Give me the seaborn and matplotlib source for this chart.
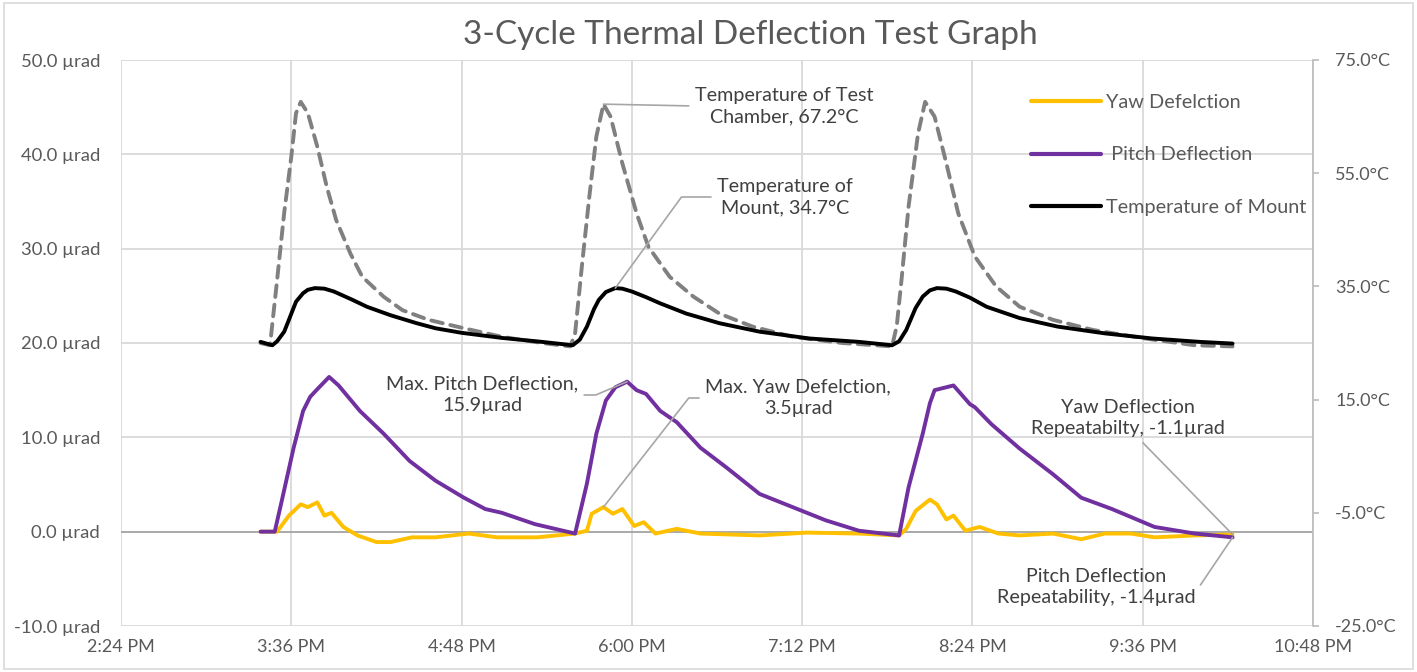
import pandas as pd
import matplotlib
matplotlib.use("Agg")
import matplotlib.pyplot as plt
import matplotlib.dates as mdates
from matplotlib.patches import Rectangle
from matplotlib.lines import Line2D
import seaborn as sns

# --- datos ---
pitch_time = ["15:23", "15:29", "15:32", "15:37", "15:41", "15:44", "15:47", "15:52", "15:56", "15:59",
              "16:05", "16:15", "16:26", "16:37", "16:49", "16:58", "17:05", "17:19", "17:36",
              "17:41", "17:45", "17:49", "17:53", "17:58", "18:02", "18:06", "18:12", "18:19",
              "18:29", "18:40", "18:54", "19:08", "19:22", "19:36", "19:53",
              "19:57", "20:03", "20:06", "20:08", "20:16", "20:23", "20:25", "20:32", "20:44", "20:58",
              "21:10", "21:23", "21:41", "21:58", "22:14"]
pitch_defl = [0.0, 0.0, 3.3, 8.9, 12.8, 14.3, 15.1, 16.4, 15.5, 14.6,
              12.8, 10.4, 7.5, 5.4, 3.6, 2.4, 2.0, 0.8, -0.2,
              5.1, 10.4, 13.9, 15.3, 15.9, 15.0, 14.6, 12.8, 11.6,
              8.9, 6.8, 4.0, 2.6, 1.2, 0.1, -0.4,
              4.7, 10.4, 13.6, 15.0, 15.5, 13.5, 13.2, 11.4, 8.8, 6.1,
              3.6, 2.4, 0.5, -0.2, -0.6]

yaw_time = ["15:23", "15:30", "15:35", "15:40", "15:43", "15:47", "15:50", "15:53", "15:58",
            "16:04", "16:12", "16:18", "16:27", "16:37", "16:51", "17:03", "17:20", "17:36",
            "17:41", "17:43", "17:48", "17:52", "17:56", "18:01", "18:05", "18:10", "18:19",
            "18:29", "18:54", "19:14", "19:36", "19:53",
            "19:56", "20:00", "20:06", "20:09", "20:13", "20:16", "20:21", "20:27", "20:35",
            "20:44", "20:58", "21:10", "21:20", "21:31", "21:41", "21:58", "22:14"]
yaw_defl = [0.0, 0.0, 1.7, 2.9, 2.6, 3.1, 1.7, 2.0, 0.5,
            -0.4, -1.1, -1.1, -0.6, -0.6, -0.2, -0.6, -0.6, -0.2,
            0.1, 1.9, 2.6, 1.9, 2.4, 0.6, 1.0, -0.2, 0.3,
            -0.2, -0.4, -0.1, -0.2, -0.4,
            0.3, 2.2, 3.4, 2.9, 1.3, 1.7, 0.1, 0.5, -0.2,
            -0.4, -0.2, -0.8, -0.2, -0.2, -0.6, -0.4, -0.3]

chamber_time = ["15:23", "15:27", "15:30", "15:33", "15:36", "15:38", "15:40", "15:43", "15:47",
                "15:51", "15:55", "16:01", "16:06", "16:15", "16:23", "16:34", "16:49", "17:05",
                "17:22", "17:34",
                "17:36", "17:39", "17:42", "17:45", "17:48", "17:51", "17:56", "18:02", "18:07",
                "18:16", "18:26", "18:37", "18:51", "19:08", "19:29", "19:50",
                "19:52", "19:54", "19:57", "20:01", "20:04", "20:08", "20:13", "20:18", "20:25",
                "20:34", "20:44", "20:58", "21:15", "21:37", "21:58", "22:14"]
chamber_temp = [25.0, 24.6, 36.1, 48.0, 57.9, 65.6, 67.6, 65.6, 59.7,
                52.6, 46.7, 40.8, 36.7, 33.2, 30.8, 29.1, 27.6, 26.1,
                25.0, 24.4,
                26.7, 39.1, 50.8, 61.5, 67.2, 65.0, 56.7, 47.9, 42.0,
                36.7, 33.2, 30.2, 27.9, 26.1, 25.0, 24.4,
                28.0, 36.1, 49.1, 62.0, 67.6, 65.0, 56.7, 47.9, 40.3,
                35.0, 31.4, 29.1, 27.3, 25.8, 24.6, 24.4]

mount_time = ["15:23", "15:28", "15:30", "15:33", "15:35", "15:38", "15:41", "15:43", "15:46",
              "15:50", "15:54", "16:02", "16:08", "16:18",
              "16:29", "16:37", "16:48", "17:05", "17:22", "17:35",
              "17:38", "17:41", "17:44", "17:46", "17:49", "17:53", "17:56", "18:00", "18:06",
              "18:12", "18:23", "18:37", "18:54", "19:15", "19:36", "19:50",
              "19:53", "19:56", "20:00", "20:03", "20:06", "20:09", "20:13", "20:17", "20:23",
              "20:30", "20:44", "21:00", "21:20", "21:40", "22:00", "22:14"]
mount_temp = [25.2, 24.6, 25.3, 27.0, 29.1, 32.3, 33.8, 34.4, 34.7,
              34.6, 34.1, 32.6, 31.4, 29.9,
              28.5, 27.6, 26.8, 25.9, 25.2, 24.6,
              25.6, 27.9, 31.0, 32.6, 34.0, 34.7, 34.6, 34.1, 33.1,
              32.0, 30.2, 28.5, 27.0, 25.8, 25.2, 24.6,
              25.3, 27.3, 31.2, 33.2, 34.3, 34.7, 34.6, 34.1, 33.0,
              31.4, 29.4, 27.9, 26.7, 25.8, 25.2, 24.9]

def a_fecha(horas):
    return pd.to_datetime(["2024-01-01 " + h for h in horas])

df_pitch = pd.DataFrame({"t": a_fecha(pitch_time), "v": pitch_defl})
df_yaw = pd.DataFrame({"t": a_fecha(yaw_time), "v": yaw_defl})
df_cham = pd.DataFrame({"t": a_fecha(chamber_time), "v": chamber_temp})
df_mount = pd.DataFrame({"t": a_fecha(mount_time), "v": mount_temp})

sns.set_style("white")
plt.rcParams["font.family"] = ["Lato", "DejaVu Sans"]
gris_txt = "#595959"
gris_lin = "#d9d9d9"

fig = plt.figure(figsize=(14.17, 6.72), dpi=100)
ax = fig.add_axes([121 / 1417, 1 - 626 / 672, (1313 - 121) / 1417, (626 - 60) / 672])
ax2 = ax.twinx()

YAW_C, PITCH_C = "#FFC000", "#7030A0"
estilo = dict(lw=2.8, solid_joinstyle="round", solid_capstyle="round")
sns.lineplot(data=df_yaw, x="t", y="v", ax=ax, color=YAW_C, **estilo)
sns.lineplot(data=df_pitch, x="t", y="v", ax=ax, color=PITCH_C, **estilo)
sns.lineplot(data=df_cham, x="t", y="v", ax=ax2, color="#808080", lw=2.8,
             linestyle=(0, (3.0, 2.0)), dash_capstyle="round", dash_joinstyle="round")
sns.lineplot(data=df_mount, x="t", y="v", ax=ax2, color="black", **estilo)

# ejes
ax.set_ylim(-10, 50)
ax.set_yticks(range(-10, 51, 10))
ax.yaxis.set_major_formatter(plt.FuncFormatter(lambda v, p: f"{v:.1f} µrad"))
ax2.set_ylim(-25, 75)
ax2.set_yticks(range(-25, 76, 20))
ax2.yaxis.set_major_formatter(plt.FuncFormatter(lambda v, p: f"{v:.1f}°C"))

inicio = pd.Timestamp("2024-01-01 14:24")
ticks = pd.date_range(inicio, periods=8, freq="72min")
ax.set_xlim(ticks[0], ticks[-1])
ax.set_xticks(ticks)
ax.xaxis.set_major_formatter(mdates.DateFormatter("%-I:%M %p"))

ax.grid(True, color=gris_lin, lw=1.3)
ax.axhline(0, color="#a6a6a6", lw=1.3, zorder=1.5)
for a in (ax, ax2):
    a.set_xlabel("")
    a.set_ylabel("")
    for s in a.spines.values():
        s.set_visible(False)
ax2.spines["right"].set_visible(True)
ax2.spines["right"].set_color("#bfbfbf")
ax2.spines["right"].set_linewidth(1.3)

ax.tick_params(axis="x", length=0, pad=9, labelsize=13, labelcolor=gris_txt)
ax.tick_params(axis="y", length=0, pad=15, labelsize=13.3, labelcolor=gris_txt)
ax2.tick_params(axis="y", length=4, width=1.3, color="#bfbfbf", pad=12,
                labelsize=13, labelcolor=gris_txt)

fig.text(750 / 1417, 1 - 35 / 672, "3-Cycle Thermal Deflection Test Graph",
         ha="center", va="center", fontsize=24, color=gris_txt)

# leyenda
handles = [Line2D([], [], color=YAW_C, lw=3),
           Line2D([], [], color=PITCH_C, lw=3),
           Line2D([], [], color="black", lw=3)]
labels = ["Yaw Defelction", " Pitch Deflection", "Temperature of Mount"]
ax2.legend(handles, labels, loc="center left", bbox_to_anchor=(1031 / 1417, 1 - 155 / 672),
           bbox_transform=fig.transFigure, frameon=False, fontsize=14.3,
           labelcolor=gris_txt, handlelength=3.5, handletextpad=0.3,
           labelspacing=1.78, borderpad=0, borderaxespad=0)

# anotaciones
gris_flecha = "#a6a6a6"
def nota(eje, texto, punto, pos, rel, conn="arc3"):
    eje.annotate(texto, xy=punto, xytext=(pos[0] / 1417, 1 - pos[1] / 672),
                 textcoords="figure fraction", ha="center", va="center",
                 fontsize=14.2, color="#404040", linespacing=1.35,
                 arrowprops=dict(arrowstyle="-", color=gris_flecha, lw=1.2,
                                 shrinkA=2, shrinkB=0, relpos=rel,
                                 connectionstyle=conn))

i_ch = chamber_temp.index(67.2)
nota(ax2, "Temperature of Test\nChamber, 67.2°C", (df_cham.t[i_ch], chamber_temp[i_ch]),
     (784, 106), (0, 0.5))
i_mt = mount_time.index("17:53")
nota(ax2, "Temperature of\nMount, 34.7°C", (df_mount.t[i_mt], mount_temp[i_mt]),
     (785, 197), (0, 0.5), "angle,angleA=0,angleB=54,rad=0")
i_pt = pitch_defl.index(15.9)
nota(ax, "Max. Pitch Deflection,\n15.9µrad", (df_pitch.t[i_pt], pitch_defl[i_pt]),
     (482, 395), (1, 0.5), "angle,angleA=0,angleB=23,rad=0")
i_yw = yaw_time.index("17:48")
nota(ax, "Max. Yaw Defelction,\n3.5µrad", (df_yaw.t[i_yw], yaw_defl[i_yw]),
     (798, 398), (0, 0.5), "angle,angleA=0,angleB=52,rad=0")
nota(ax, "Yaw Deflection\nRepeatabilty, -1.1µrad", (df_yaw.t.iloc[-1], yaw_defl[-1]),
     (1128, 418), (0.55, 0))
nota(ax, "Pitch Deflection\nRepeatability, -1.4µrad", (df_pitch.t.iloc[-1], pitch_defl[-1]),
     (1096, 587), (1, 0.5), "angle,angleA=0,angleB=56,rad=0")

fig.patches.append(Rectangle((0.003, 0.004), 0.994, 0.992, transform=fig.transFigure,
                             fill=False, ec=gris_lin, lw=1.2))

fig.savefig("out.png", dpi=100)
